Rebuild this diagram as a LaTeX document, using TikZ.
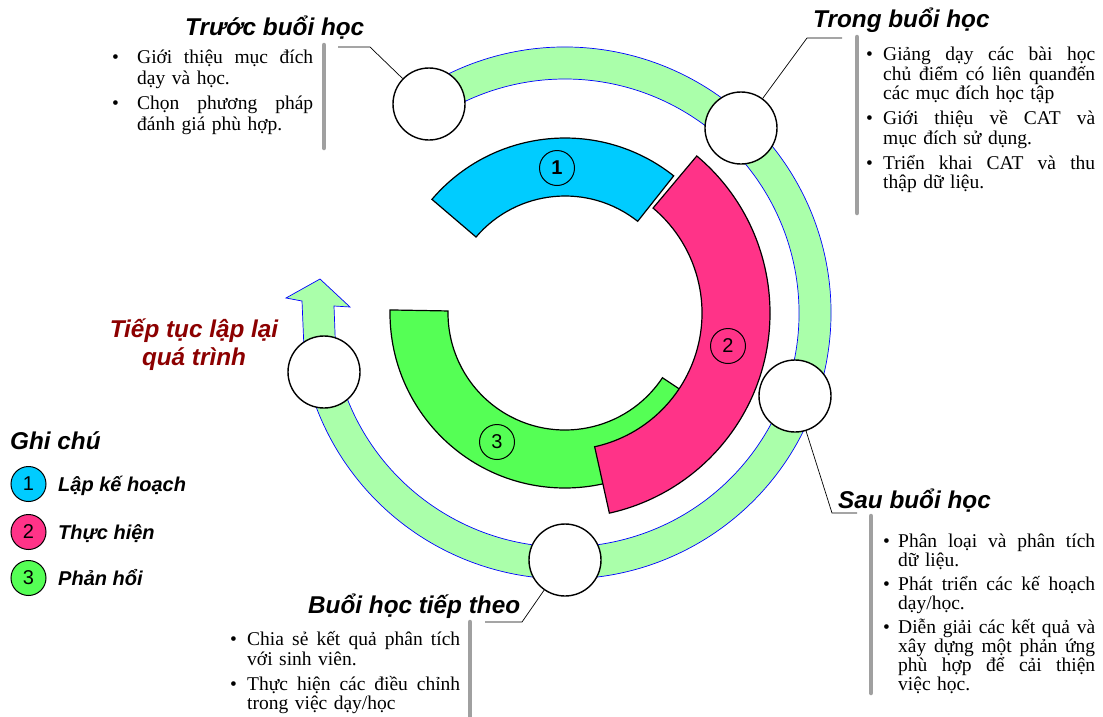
\documentclass[tikz,border=0pt]{standalone}
\usepackage{fontspec}
\setmainfont{Liberation Serif}
\setsansfont{Liberation Sans}
\definecolor{planblue}{RGB}{0,204,255}
\definecolor{dopink}{RGB}{255,51,136}
\definecolor{revgreen}{RGB}{85,255,85}
\definecolor{ringgreen}{RGB}{170,255,170}
\definecolor{loopred}{RGB}{140,0,0}
\definecolor{bargray}{RGB}{160,160,160}
% bullet list helpers: hanging bullet, and a line spread to full width
\newlength\bulind
\newlength\bulw
\newlength\bulgap
\newcommand\bitem[1]{\par\noindent\hangindent=\bulind\hangafter=1\hbox to\bulind{\textbullet\hss}#1\par\vspace{\bulgap}}
\newcommand\jl[1]{\hbox to\bulw{\spaceskip=4pt plus 1fil\relax #1}\hfil\break}
\begin{document}
\begin{tikzpicture}[x=1pt,y=-1pt,
  seg/.style={draw=black, line width=1.2pt},
  ring/.style={fill=ringgreen, draw=blue, line width=0.7pt},
  stage/.style={circle, draw=black, line width=1.4pt, fill=white, minimum size=72pt, inner sep=0pt},
  numc/.style={circle, draw=black, line width=1pt, minimum size=35pt, inner sep=0pt, font=\sffamily\fontsize{20}{20}\selectfont},
  leader/.style={draw=black, line width=0.7pt},
  bar/.style={draw=bargray, line width=4.5pt, line cap=round},
  head/.style={inner sep=0pt, font=\sffamily\bfseries\itshape\fontsize{24.3}{28}\selectfont},
  legtext/.style={inner sep=0pt, anchor=base west, font=\sffamily\bfseries\itshape\fontsize{20}{24}\selectfont},
  body/.style={inner sep=0pt, anchor=north west, font=\fontsize{19.5}{19.5}\selectfont}
]
\fill[white] (0,0) rectangle (1103,716);
\useasboundingbox (0,0) rectangle (1103,716);

% outer cycle ring ending in an arrow
\begin{scope}[shift={(565,313)}]
\path[ring] (-122:266) arc[start angle=-122,end angle=168,radius=266]
  -- (-263,-12) -- (-279,-15) -- (-245,-34) -- (-215,-6) -- (-231,-7)
  -- (168:234) arc[start angle=168,end angle=-122,radius=234] -- cycle;
% inner phase segments
\path[seg, fill=revgreen] (-179:175) arc[start angle=-179,end angle=-326.4,radius=175]
  -- (-326.4:117) arc[start angle=-326.4,end angle=-179,radius=117] -- cycle;
\path[seg, fill=planblue] (-51.6:175) arc[start angle=-51.6,end angle=-139.5,radius=175]
  -- (-139.5:117) arc[start angle=-139.5,end angle=-51.6,radius=117] -- cycle;
\path[seg, fill=dopink] (-50:205) arc[start angle=-50,end angle=77.5,radius=205]
  -- (77.5:137) arc[start angle=77.5,end angle=-50,radius=137] -- cycle;
\end{scope}

\node[numc] (n1) at (557,168) {\bfseries 1};
\node[numc] (n2) at (728,346) {2};
\node[numc] (n3) at (497,442) {3};

% stage circles
\node[stage] (s1) at (429,104) {};
\node[stage] (s2) at (741,128) {};
\node[stage] (s3) at (795,396) {};
\node[stage] (s4) at (565,560) {};
\node[stage] (s5) at (324,372) {};

% leaders
\coordinate (k1) at (370,47);  \coordinate (k1e) at (338,47);
\coordinate (k2) at (807,38);  \coordinate (k2e) at (842,38);
\coordinate (k3) at (832,513); \coordinate (k3e) at (857,513);
\coordinate (k4) at (522,622); \coordinate (k4e) at (485,622);
\draw[leader] (s1) -- (k1) -- (k1e);
\draw[leader] (s2) -- (k2) -- (k2e);
\draw[leader] (s3) -- (k3) -- (k3e);
\draw[leader] (s4) -- (k4) -- (k4e);

% side bars
\draw[bar] (324,45) -- (324,148);
\draw[bar] (857,37) -- (857,213);
\draw[bar] (871,516) -- (871,693);
\draw[bar] (470,622) -- (470,722);

% headings
\node[head, anchor=base west] (h1) at (185,35) {Trước buổi học};
\node[head, anchor=base west] (h2) at (813,27) {Trong buổi học};
\node[head, anchor=base west] (h3) at (838,508) {Sau buổi học};
\node[head, anchor=base west] (h4) at (308,613) {Buổi học tiếp theo};
\node[head, text=loopred, align=center, anchor=north] (loop) at (194,319) {\rule{0pt}{18pt}Tiếp tục lập lại\\quá trình};

% bullet texts
\node[body, text width=201pt, font=\fontsize{19.5}{20.5}\selectfont] (t1) at (112,43) {%
\setlength\bulind{25pt}\setlength\bulw{176pt}\setlength\bulgap{5pt}%
\bitem{\rule{0pt}{18pt}\jl{Giới thiệu mục đích}dạy và học.}%
\bitem{\jl{Chọn phương pháp}đánh giá phù hợp.}};
\node[body, text width=229pt] (t2) at (866,41) {%
\setlength\bulind{17pt}\setlength\bulw{212pt}\setlength\bulgap{5.5pt}%
\bitem{\rule{0pt}{18pt}\jl{Giảng dạy các bài học}\jl{chủ điểm có liên quanđến}các mục đích học tập}%
\bitem{\jl{Giới thiệu về CAT và}mục đích sử dụng.}%
\bitem{\jl{Triển khai CAT và thu}thập dữ liệu.}};
\node[body, text width=212pt, font=\fontsize{19.5}{19}\selectfont] (t3) at (883,528) {%
\setlength\bulind{15pt}\setlength\bulw{197pt}\setlength\bulgap{5pt}%
\bitem{\rule{0pt}{18pt}\jl{Phân loại và phân tích}dữ liệu.}%
\bitem{\jl{Phát triển các kế hoạch}dạy/học.}%
\bitem{\jl{Diễn giải các kết quả và}\jl{xây dựng một phản ứng}\jl{phù hợp để cải thiện}việc học.}};
\node[body, text width=230pt] (t4) at (230,626) {%
\setlength\bulind{17pt}\setlength\bulw{213pt}\setlength\bulgap{5.5pt}%
\bitem{\rule{0pt}{18pt}\jl{Chia sẻ kết quả phân tích}với sinh viên.}%
\bitem{\jl{Thực hiện các điều chỉnh}trong việc dạy/học}};

% legend
\node[head, anchor=base west] (lg) at (10,449) {Ghi chú};
\node[numc, fill=planblue] (l1) at (28.5,484) {1};
\node[numc, fill=dopink] (l2) at (28.5,532) {2};
\node[numc, fill=revgreen] (l3) at (28.5,578) {3};
\node[legtext] (lt1) at (58,491) {Lập kế hoạch};
\node[legtext] (lt2) at (58,539) {Thực hiện};
\node[legtext] (lt3) at (58,585) {Phản hổi};
\end{tikzpicture}
\end{document}
